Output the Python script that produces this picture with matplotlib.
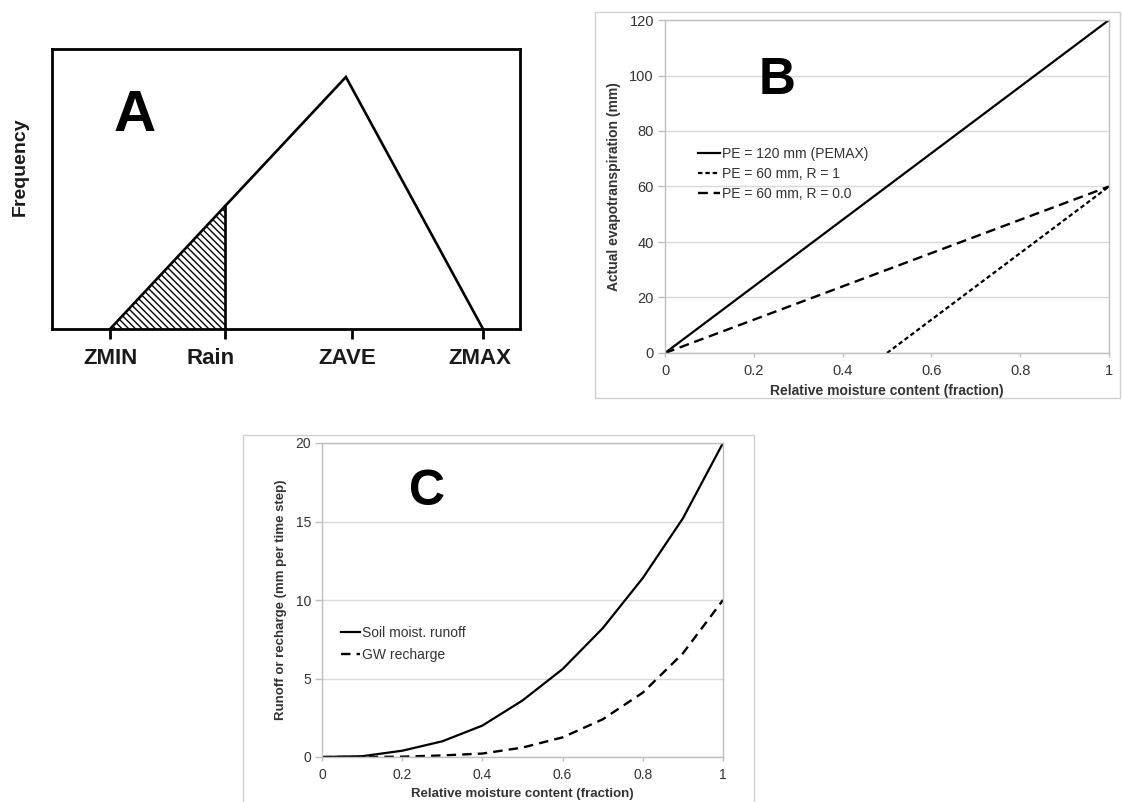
import numpy as np
import matplotlib
matplotlib.use("Agg")
import matplotlib.pyplot as plt
from matplotlib.patches import Rectangle, Polygon

plt.rcParams['font.family'] = ['Liberation Sans', 'DejaVu Sans']
plt.rcParams['hatch.linewidth'] = 1.0

# ---------------- data ----------------
# Panel A (schematic frequency distribution)
a_tick_labels = ['ZMIN', 'Rain', 'ZAVE', 'ZMAX']
a_tick_x = [0.124, 0.370, 0.641, 0.921]
a_tri_x = [0.124, 0.628, 0.921]
a_tri_y = [0.0, 0.90, 0.0]

# Panel B
b_moisture = [0.0, 0.1, 0.2, 0.3, 0.4, 0.5, 0.6, 0.7, 0.8, 0.9, 1.0]
b_pe120 = [0, 12, 24, 36, 48, 60, 72, 84, 96, 108, 120]
b_pe60_r1 = [np.nan, np.nan, np.nan, np.nan, np.nan, 0, 12, 24, 36, 48, 60]
b_pe60_r0 = [0, 6, 12, 18, 24, 30, 36, 42, 48, 54, 60]
b_labels = ['PE = 120 mm (PEMAX)', 'PE = 60 mm, R = 1', 'PE = 60 mm, R = 0.0']
b_yticks = [0, 20, 40, 60, 80, 100, 120]
b_xticks = [0, 0.2, 0.4, 0.6, 0.8, 1.0]
b_xticklabels = ['0', '0.2', '0.4', '0.6', '0.8', '1']

# Panel C
c_moisture = [0.0, 0.1, 0.2, 0.3, 0.4, 0.5, 0.6, 0.7, 0.8, 0.9, 1.0]
c_runoff = [0.0, 0.05, 0.4, 1.0, 2.0, 3.6, 5.6, 8.2, 11.4, 15.2, 20.0]
c_recharge = [0.0, 0.0, 0.02, 0.1, 0.22, 0.6, 1.25, 2.4, 4.1, 6.6, 10.0]
c_labels = ['Soil moist. runoff', 'GW recharge']
c_yticks = [0, 5, 10, 15, 20]
c_xticks = [0, 0.2, 0.4, 0.6, 0.8, 1.0]
c_xticklabels = ['0', '0.2', '0.4', '0.6', '0.8', '1']

# ---------------- layout helpers ----------------
W, H = 1122, 802
fig = plt.figure(figsize=(W / 100, H / 100), dpi=100)


def fx(px):
    return px / W


def fy(py):
    return 1 - py / H


def axes_px(left, top, right, bottom):
    return fig.add_axes([fx(left), fy(bottom), fx(right) - fx(left), fy(top) - fy(bottom)])


GRID = '#d9d9d9'
SPINE = '#bfbfbf'
TXT = '#333333'

# ---------------- Panel A ----------------
axA = axes_px(52, 49, 520, 329)
axA.set_xlim(0, 1)
axA.set_ylim(0, 1)
for s in axA.spines.values():
    s.set_linewidth(2.0)
    s.set_color('black')
axA.plot(a_tri_x, a_tri_y, color='black', lw=1.9, solid_joinstyle='miter', clip_on=False)
rain_x = a_tick_x[1]
rain_h = float(np.interp(rain_x, a_tri_x[:2], a_tri_y[:2]))
axA.add_patch(Polygon([[a_tri_x[0], 0], [rain_x, rain_h], [rain_x, 0]], closed=True,
                      facecolor='white', edgecolor='black', hatch='\\\\\\\\\\', lw=0))
axA.plot([rain_x, rain_x], [0, rain_h], color='black', lw=1.9)
axA.set_yticks([])
axA.set_xticks(a_tick_x)
axA.set_xticklabels([''] * len(a_tick_x))
axA.tick_params(axis='x', direction='out', length=7, width=2, color='black')
a_label_x = [0.126, 0.338, 0.631, 0.915]
for lx, lab in zip(a_label_x, a_tick_labels):
    axA.text(lx, -0.104, lab, ha='center', va='center', fontsize=16,
             fontweight='bold', color='#1a1a1a', transform=axA.transAxes)
fig.text(fx(20), fy(167), 'Frequency', rotation=90, ha='center', va='center',
         fontsize=14, fontweight='bold', color='#1a1a1a')
fig.text(fx(135), fy(116), 'A', ha='center', va='center', fontsize=42,
         fontweight='bold', color='black')

# ---------------- Panel B ----------------
fig.add_artist(Rectangle((fx(595), fy(398)), fx(1120) - fx(595), fy(12) - fy(398),
                         transform=fig.transFigure, fill=False, edgecolor='#d0d0d0', lw=1))
axB = axes_px(665, 20, 1109, 353)
axB.set_xlim(0, 1)
axB.set_ylim(0, 120)
axB.set_yticks(b_yticks)
axB.set_xticks(b_xticks)
axB.set_xticklabels(b_xticklabels)
axB.yaxis.grid(True, color=GRID, lw=1)
axB.set_axisbelow(True)
for s in axB.spines.values():
    s.set_color(SPINE)
    s.set_linewidth(1)
axB.tick_params(axis='y', direction='out', length=5, width=1, color=SPINE, pad=3,
                labelsize=10.5, labelcolor=TXT)
axB.tick_params(axis='x', direction='out', length=3, width=1, color=SPINE, pad=5,
                labelsize=10.5, labelcolor=TXT)
axB.plot(b_moisture, b_pe120, color='black', lw=1.6, label=b_labels[0])
axB.plot(b_moisture, b_pe60_r1, color='black', lw=1.6, linestyle=(0, (2.0, 1.3)),
         label=b_labels[1])
axB.plot(b_moisture, b_pe60_r0, color='black', lw=1.7, linestyle=(0, (4.2, 2.4)),
         label=b_labels[2])
legB = axB.legend(loc='upper left', bbox_to_anchor=(fx(698), fy(147)),
                  bbox_transform=fig.transFigure, frameon=False, fontsize=10,
                  handlelength=1.6, handletextpad=0.1, borderpad=0, borderaxespad=0,
                  labelspacing=0.42)
for t in legB.get_texts():
    t.set_color(TXT)
axB.set_xlabel('Relative moisture content (fraction)', fontsize=10, fontweight='bold',
               color=TXT, labelpad=4)
axB.set_ylabel('Actual evapotranspiration (mm)', fontsize=10, fontweight='bold',
               color=TXT, labelpad=6)
fig.text(fx(777), fy(80), 'B', ha='center', va='center', fontsize=37,
         fontweight='bold', color='black')

# ---------------- Panel C ----------------
fig.add_artist(Rectangle((fx(243), fy(820)), fx(754) - fx(243), fy(435) - fy(820),
                         transform=fig.transFigure, fill=False, edgecolor='#d0d0d0', lw=1))
axC = axes_px(322, 443, 723, 757)
axC.set_xlim(0, 1)
axC.set_ylim(0, 20)
axC.set_yticks(c_yticks)
axC.set_xticks(c_xticks)
axC.set_xticklabels(c_xticklabels)
axC.yaxis.grid(True, color=GRID, lw=1)
axC.set_axisbelow(True)
for s in axC.spines.values():
    s.set_color(SPINE)
    s.set_linewidth(1)
axC.tick_params(axis='y', direction='out', length=5, width=1, color=SPINE, pad=3,
                labelsize=10, labelcolor=TXT)
axC.tick_params(axis='x', direction='out', length=3, width=1, color=SPINE, pad=5,
                labelsize=10, labelcolor=TXT)
axC.plot(c_moisture, c_runoff, color='black', lw=1.6, label=c_labels[0])
axC.plot(c_moisture, c_recharge, color='black', lw=1.7, linestyle=(0, (4.0, 2.6)),
         label=c_labels[1])
legC = axC.legend(loc='upper left', bbox_to_anchor=(fx(341), fy(626)),
                  bbox_transform=fig.transFigure, frameon=False, fontsize=10,
                  handlelength=1.4, handletextpad=0.1, borderpad=0, borderaxespad=0,
                  labelspacing=0.6)
for t in legC.get_texts():
    t.set_color(TXT)
axC.set_xlabel('Relative moisture content (fraction)', fontsize=9.5, fontweight='bold',
               color=TXT, labelpad=4)
axC.set_ylabel('Runoff or recharge (mm per time step)', fontsize=9.5, fontweight='bold',
               color=TXT, labelpad=6)
fig.text(fx(427), fy(492), 'C', ha='center', va='center', fontsize=36,
         fontweight='bold', color='black')

fig.savefig('out.png', dpi=100, facecolor='white')
